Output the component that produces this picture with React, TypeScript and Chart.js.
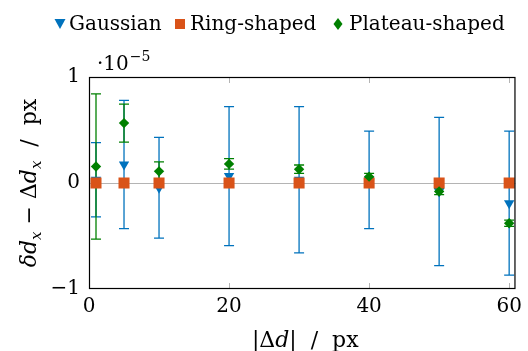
import React, { useEffect, useRef } from "react";
import { Chart, registerables } from "chart.js";

Chart.register(...registerables);

// Values are in units of 1e-5 px
const xValues = [1, 5, 10, 20, 30, 40, 50, 60];
const gaussianMean = [0.03, 0.175, -0.045, 0.065, 0.03, 0.03, -0.08, -0.19];
const gaussianErr = [0.35, 0.605, 0.475, 0.655, 0.69, 0.46, 0.7, 0.68];
const ringMean = [0, 0, 0, 0, 0, 0, 0, 0];
const ringErr = [0, 0, 0, 0, 0, 0, 0, 0];
const plateauMean = [0.155, 0.565, 0.11, 0.18, 0.13, 0.06, -0.08, -0.38];
const plateauErr = [0.685, 0.18, 0.09, 0.05, 0.04, 0.03, 0.03, 0.03];
const xTicks = [0, 20, 40, 60];
const yTicks = [-1, 0, 1];
const seriesNames = ["Gaussian", "Ring-shaped", "Plateau-shaped"];

const BLUE = "#0072BD";
const ORANGE = "#D95319";
const GREEN = "#008000";
const FONT = "'DejaVu Serif', 'Liberation Serif', serif";

type Seg = { t: string; it?: boolean; sub?: boolean; sup?: boolean };

function segFont(s: Seg, size: number) {
  const sz = s.sub || s.sup ? Math.round(size * 0.7) : size;
  return `${s.it ? "italic " : ""}${sz}px ${FONT}`;
}

function drawRich(ctx: CanvasRenderingContext2D, segs: Seg[], x: number, y: number, size: number) {
  let total = 0;
  for (const s of segs) {
    ctx.font = segFont(s, size);
    total += ctx.measureText(s.t).width;
  }
  let cx = x - total / 2;
  ctx.textAlign = "left";
  ctx.textBaseline = "alphabetic";
  for (const s of segs) {
    ctx.font = segFont(s, size);
    const dy = s.sub ? size * 0.22 : s.sup ? -size * 0.4 : 0;
    ctx.fillText(s.t, cx, y + dy);
    cx += ctx.measureText(s.t).width;
  }
}

const decor = {
  id: "decor",
  beforeDatasetsDraw(chart: any) {
    const { ctx, chartArea: a, scales } = chart;
    const xs = scales.x;
    const ys = scales.y;
    ctx.save();
    ctx.strokeStyle = "#b4b4b4";
    ctx.lineWidth = 1;
    const y0 = Math.round(ys.getPixelForValue(0)) + 0.5;
    ctx.beginPath();
    ctx.moveTo(a.left, y0);
    ctx.lineTo(a.right, y0);
    ctx.stroke();
    for (const v of xTicks) {
      const px = Math.round(xs.getPixelForValue(v)) + 0.5;
      ctx.beginPath();
      ctx.moveTo(px, a.top);
      ctx.lineTo(px, a.top + 6);
      ctx.moveTo(px, a.bottom);
      ctx.lineTo(px, a.bottom - 6);
      ctx.stroke();
    }
    ctx.beginPath();
    ctx.rect(a.left, a.top, a.right - a.left, a.bottom - a.top);
    ctx.clip();
    const bars = (means: number[], errs: number[], color: string) => {
      ctx.strokeStyle = color;
      ctx.lineWidth = 1.3;
      for (let i = 0; i < xValues.length; i++) {
        if (!errs[i]) continue;
        const px = xs.getPixelForValue(xValues[i]);
        const top = ys.getPixelForValue(means[i] + errs[i]);
        const bot = ys.getPixelForValue(means[i] - errs[i]);
        ctx.beginPath();
        ctx.moveTo(px, top);
        ctx.lineTo(px, bot);
        ctx.moveTo(px - 5, top);
        ctx.lineTo(px + 5, top);
        ctx.moveTo(px - 5, bot);
        ctx.lineTo(px + 5, bot);
        ctx.stroke();
      }
    };
    bars(gaussianMean, gaussianErr, BLUE);
    bars(ringMean, ringErr, ORANGE);
    bars(plateauMean, plateauErr, GREEN);
    ctx.restore();
  },
  afterDatasetsDraw(chart: any) {
    const { ctx, chartArea: a } = chart;
    ctx.save();
    ctx.strokeStyle = "#000";
    ctx.lineWidth = 1.2;
    ctx.strokeRect(a.left + 0.5, a.top + 0.5, a.right - a.left - 1, a.bottom - a.top - 1);
    ctx.restore();
  },
  afterDraw(chart: any) {
    const { ctx, chartArea: a } = chart;
    ctx.save();
    ctx.fillStyle = "#000";
    const ly = 24;
    const baseline = 30;
    ctx.font = `20px ${FONT}`;
    ctx.textAlign = "left";
    ctx.textBaseline = "alphabetic";
    ctx.fillStyle = BLUE;
    ctx.beginPath();
    ctx.moveTo(54.5, 19);
    ctx.lineTo(65.5, 19);
    ctx.lineTo(60, 29);
    ctx.closePath();
    ctx.fill();
    ctx.fillStyle = "#000";
    ctx.fillText(seriesNames[0], 69, baseline);
    ctx.fillStyle = ORANGE;
    ctx.fillRect(175, ly - 5, 10, 10);
    ctx.fillStyle = "#000";
    ctx.fillText(seriesNames[1], 190, baseline);
    ctx.fillStyle = GREEN;
    ctx.beginPath();
    ctx.moveTo(338, ly - 6);
    ctx.lineTo(342.5, ly);
    ctx.lineTo(338, ly + 6);
    ctx.lineTo(333.5, ly);
    ctx.closePath();
    ctx.fill();
    ctx.fillStyle = "#000";
    ctx.fillText(seriesNames[2], 349, baseline);
    ctx.font = `20px ${FONT}`;
    ctx.fillText("·10", 97, 70);
    const w = ctx.measureText("·10").width;
    ctx.font = `14px ${FONT}`;
    ctx.fillText("−5", 97 + w + 1, 61);
    const cxm = (a.left + a.right) / 2 + 3;
    drawRich(ctx, [{ t: "|Δ" }, { t: "d", it: true }, { t: "|  /  px" }], cxm, 347, 22);
    ctx.translate(36, (a.top + a.bottom) / 2);
    ctx.rotate(-Math.PI / 2);
    drawRich(
      ctx,
      [
        { t: "δd", it: true },
        { t: "x", it: true, sub: true },
        { t: " − Δ" },
        { t: "d", it: true },
        { t: "x", it: true, sub: true },
        { t: "  /  px" },
      ],
      0,
      0,
      22
    );
    ctx.restore();
  },
};

export default function App() {
  const ref = useRef<HTMLCanvasElement | null>(null);
  useEffect(() => {
    if (!ref.current) return;
    const tickFont = { family: FONT, size: 20 };
    const chart = new Chart(ref.current, {
      type: "scatter",
      data: {
        datasets: [
          {
            label: seriesNames[0],
            data: xValues.map((x, i) => ({ x, y: gaussianMean[i] })),
            pointStyle: "triangle",
            rotation: 180,
            pointRadius: 6,
            backgroundColor: BLUE,
            borderWidth: 0,
            order: 2,
          },
          {
            label: seriesNames[1],
            data: xValues.map((x, i) => ({ x, y: ringMean[i] })),
            pointStyle: "rect",
            pointRadius: 7.8,
            backgroundColor: ORANGE,
            borderWidth: 0,
            order: 1,
          },
          {
            label: seriesNames[2],
            data: xValues.map((x, i) => ({ x, y: plateauMean[i] })),
            pointStyle: "rectRot",
            pointRadius: 5.2,
            backgroundColor: GREEN,
            borderWidth: 0,
            order: 0,
          },
        ] as any,
      },
      options: {
        animation: false,
        responsive: false,
        devicePixelRatio: 1,
        layout: { padding: { top: 77, right: 5, left: 0, bottom: 0 } },
        plugins: { legend: { display: false }, tooltip: { enabled: false } },
        scales: {
          x: {
            type: "linear",
            min: 0,
            max: 60.9,
            afterBuildTicks: (s: any) => {
              s.ticks = xTicks.map((v) => ({ value: v }));
            },
            afterFit: (s: any) => {
              s.height = 62;
            },
            ticks: { font: tickFont, color: "#000", padding: 6, maxRotation: 0 },
            grid: { drawOnChartArea: false, drawTicks: false },
            border: { display: false },
          },
          y: {
            type: "linear",
            min: -1,
            max: 1,
            afterBuildTicks: (s: any) => {
              s.ticks = yTicks.map((v) => ({ value: v }));
            },
            afterFit: (s: any) => {
              s.width = 89;
            },
            ticks: {
              font: tickFont,
              color: "#000",
              padding: 9,
              callback: (v: any) => (Number(v) < 0 ? "−" + Math.abs(Number(v)) : String(v)),
            },
            grid: { drawOnChartArea: false, drawTicks: false },
            border: { display: false },
          },
        },
      },
      plugins: [decor],
    } as any);
    return () => chart.destroy();
  }, []);
  return (
    <div style={{ position: "fixed", left: 0, top: 0, width: 528, height: 351, background: "#fff" }}>
      <canvas ref={ref} width={528} height={351} />
    </div>
  );
}
